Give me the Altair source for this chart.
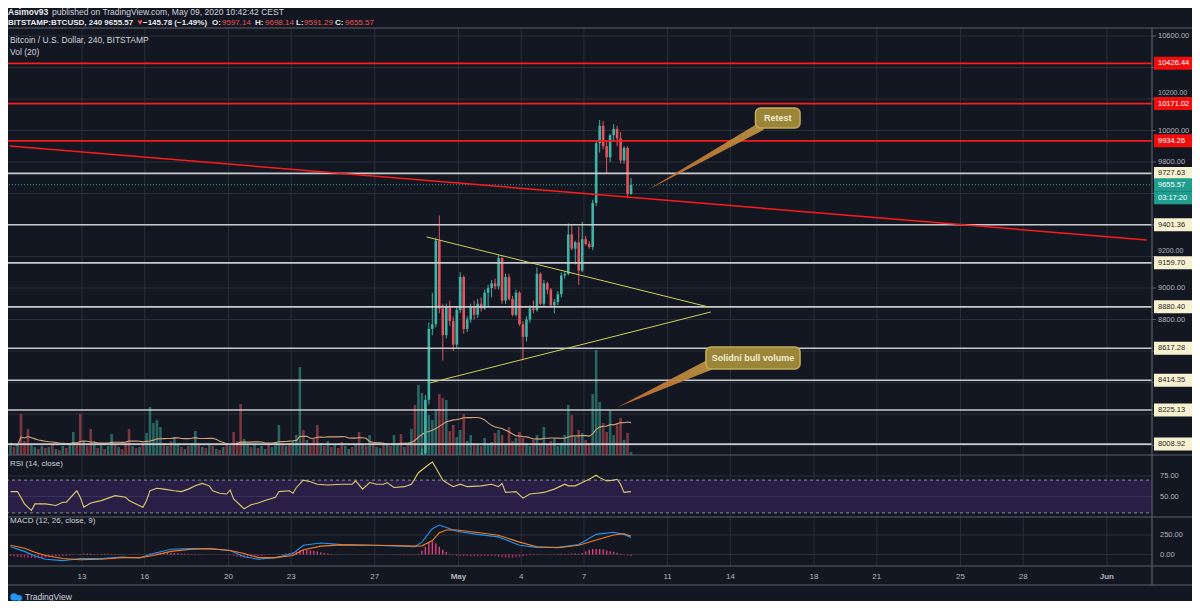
import altair as alt
import pandas as pd

FONT = "Liberation Sans"
BG = "#131722"
UP = "#3fb3a4"
DN = "#e4545e"
TXT = "#d1d4dc"
LAB = "#b2b5be"
GRID = "#2a2e39"
SEP = "#5d606b"
RED = "#ff1a1a"
WHITE_LVL = "#c9cacd"

# ---------------- data ----------------
# time in days since 2020-04-01 00:00, 4h bars
first_bar_day = 8.5833      # centre of the first visible 4h bar (Apr 9)
bars_per_day = 6

tick_days = [12, 15, 19, 22, 26, 30, 33, 36, 40, 43, 47, 50, 54, 57, 61]
tick_labels = ["13", "16", "20", "23", "27", "May", "4", "7", "11", "14", "18", "21", "25", "28", "Jun"]

c_open = [7740, 7760, 7950, 8290, 8740, 8770, 9300, 8870, 8700, 8880,
          8790, 8640, 8860, 9070, 8740, 8800, 8880, 8830, 8900, 8870,
          8970, 9000, 9030, 9010, 9190, 8920, 9070, 8930, 8830, 8970,
          8770, 8690, 8800, 8870, 8860, 9090, 8900, 9030, 8990, 8890,
          8910, 8960, 9080, 9090, 9340, 9250, 9290, 9110, 9310, 9280,
          9260, 9540, 9920, 10030, 9900, 9830, 9970, 10010, 9950, 9810,
          9890, 9597.14]
c_high = [7790, 7980, 8320, 8780, 8970, 9320, 9460, 8900, 8900, 8920,
          8820, 8880, 9100, 9080, 8820, 8900, 8920, 8930, 8940, 8990,
          9020, 9050, 9060, 9210, 9200, 9090, 9090, 8950, 8990, 8980,
          8790, 8820, 8890, 8920, 9130, 9100, 9050, 9040, 9000, 8930,
          8980, 9100, 9110, 9410, 9400, 9300, 9390, 9420, 9330, 9300,
          9560, 9940, 10067, 10060, 9930, 9980, 10040, 10030, 9990, 9900,
          9900, 9698.14]
c_low = [7700, 7750, 7930, 8260, 8700, 8750, 8840, 8540, 8680, 8760,
         8600, 8620, 8840, 8710, 8720, 8780, 8800, 8810, 8850, 8860,
         8880, 8940, 8990, 8990, 8900, 8900, 8920, 8820, 8820, 8760,
         8540, 8660, 8780, 8840, 8850, 8890, 8880, 8960, 8880, 8840,
         8890, 8940, 9060, 9080, 9240, 9150, 9020, 9100, 9270, 9250,
         9240, 9520, 9860, 9880, 9730, 9800, 9930, 9900, 9790, 9790,
         9570, 9591.29]
c_close = [7760, 7950, 8290, 8740, 8770, 9300, 8870, 8700, 8880, 8790,
           8640, 8860, 9070, 8740, 8800, 8880, 8830, 8900, 8870, 8970,
           9000, 9030, 9010, 9190, 8920, 9070, 8930, 8830, 8970, 8770,
           8690, 8800, 8870, 8860, 9090, 8900, 9030, 8990, 8890, 8910,
           8960, 9080, 9090, 9340, 9250, 9290, 9110, 9310, 9280, 9260,
           9540, 9920, 10030, 9900, 9830, 9970, 10010, 9950, 9810, 9890,
           9597.14, 9655.57]

# volume (BTC) of bars before the first visible candle
vol_pre = [720, 480, 600, 2460, 840, 1560, 600, 480, 360, 540,
           420, 480, 600, 360, 300, 540, 420, 660, 1380, 720,
           2460, 840, 540, 1560, 600, 420, 720, 360, 540, 1260,
           600, 480, 360, 660, 1560, 540, 420, 480, 600, 1320,
           2880, 1920, 2100, 1680, 720, 540, 840, 1080, 600, 480,
           360, 540, 720, 1440, 600, 480, 420, 660, 540, 360,
           300, 480, 720, 540, 1380, 840, 3060, 960, 600, 480,
           720, 420, 540, 360, 600, 480, 780, 1800, 660, 540,
           720, 840, 1200, 5280, 1500, 900, 720, 960, 1800, 720,
           540, 840, 480, 600, 420, 780, 540, 360, 480, 600,
           1380, 660, 540, 1200, 720, 480, 420, 600, 720, 540,
           1200, 660, 1260, 480, 600, 1560, 3000]
vol_pre_up = [1, 0, 1, 0, 0, 0, 1, 1, 0, 1,
              0, 1, 0, 1, 0, 1, 0, 1, 1, 0,
              0, 1, 0, 0, 1, 0, 1, 0, 1, 1,
              0, 1, 0, 0, 0, 1, 0, 1, 0, 1,
              1, 1, 1, 1, 0, 1, 0, 1, 1, 0,
              1, 0, 1, 1, 0, 1, 0, 1, 0, 1,
              0, 1, 0, 1, 0, 0, 0, 1, 1, 0,
              1, 0, 1, 1, 0, 1, 1, 1, 0, 1,
              0, 1, 1, 1, 0, 1, 0, 0, 0, 1,
              0, 1, 0, 1, 0, 0, 1, 1, 0, 1,
              0, 1, 0, 1, 0, 1, 1, 0, 1, 0,
              1, 1, 0, 1, 0, 1, 0]
vol_candle = [4200, 3720, 3300, 2400, 2100, 2760, 3660, 3420, 3300, 1440,
              1800, 1080, 1500, 2460, 840, 1200, 720, 600, 540, 1020,
              660, 780, 1320, 1500, 1200, 720, 1680, 840, 1020, 1380,
              1020, 720, 540, 900, 1200, 720, 1680, 600, 840, 1020,
              540, 720, 1200, 3000, 2400, 1080, 1500, 1320, 900, 720,
              3660, 6300, 3180, 1920, 1380, 2700, 1200, 1920, 2220, 900,
              1320, 180]

rsi_bar = [0, 2, 4, 6, 7, 10, 13, 15, 16, 19, 20, 21, 23, 26, 28, 30, 33, 34, 36, 38,
           39, 40, 42, 44, 47, 49, 51, 53, 55, 57, 58, 60, 62, 63, 64, 66, 67, 69, 71, 73,
           76, 77, 80, 81, 82, 84, 86, 88, 91, 95, 98, 99, 101, 103, 105, 107, 108, 110, 113, 115,
           117, 120, 121, 122, 124, 125, 127, 129, 131, 135, 138, 140, 141, 142, 145, 147, 149, 151, 153, 156,
           159, 160, 162, 164, 166, 168, 169, 171, 173, 174, 175, 176, 178]
rsi_val = [56, 56, 41, 33, 41, 41, 39, 43, 43, 57, 49, 37, 42, 45, 48, 51, 49, 45, 41, 37,
           45, 57, 60, 59, 57, 56, 59, 63, 66, 63, 57, 54, 53, 58, 47, 39, 35, 40, 42, 45,
           49, 56, 57, 54, 61, 70, 68, 65, 64, 65, 65, 69, 59, 67, 65, 65, 67, 61, 62, 65,
           79, 89, 92, 85, 70, 67, 62, 65, 62, 63, 65, 62, 66, 55, 56, 48, 53, 54, 55, 59,
           65, 63, 63, 67, 71, 76, 73, 69, 70, 71, 65, 55, 56]

macd_bar = [0, 4, 7, 10, 15, 20, 26, 32, 37, 41, 46, 52, 57, 63, 67, 71, 76, 81, 84, 89,
            95, 104, 110, 116, 118, 121, 123, 125, 128, 134, 140, 146, 151, 157, 163, 168, 173, 176, 178]
macd_val = [99, 40, -20, -60, -79, -52, -52, -32, -44, 12, 67, 75, 75, 52, -28, -60, -40, 12, 119, 147,
            127, 119, 111, 99, 159, 330, 377, 345, 298, 258, 226, 119, 91, 91, 127, 258, 286, 258, 218]
signal_val = [119, 79, 28, -12, -52, -67, -60, -40, -40, -12, 40, 67, 75, 52, 12, -40, -40, -12, 60, 107,
              123, 119, 115, 107, 111, 179, 278, 314, 314, 282, 246, 159, 99, 87, 119, 187, 250, 266, 238]
hist_val = [-20, -25, -30, -35, -39, -42, -45, -48, -48, -46,
            -42, -36, -30, -27, -24, -20, -16, -12, -6, 0,
            8, 12, 12, 10, 8, 6, 8, 10, 10, 8,
            6, 4, 2, 0, -2, -4, -5, -4, -2, 4,
            12, 18, 22, 25, 27, 27, 24, 20, 16, 12,
            10, 8, 8, 6, 4, 2, 1, 0, 0, 0,
            -1, -2, -4, -10, -18, -28, -36, -40, -38, -30,
            -25, -20, -15, -10, -5, -2, 0, 2, 6, 12,
            20, 30, 40, 50, 58, 60, 55, 48, 40, 30,
            20, 12, 6, 4, 2, 0, 0, 0, 0, 0,
            -2, -4, -4, -2, 0, -2, -4, -4, -4, -4,
            -4, -6, -8, -8, -8, -6, -4, 8, 48, 100,
            150, 170, 140, 100, 60, 31, 10, -10, -16, -20,
            -24, -24, -24, -24, -22, -20, -20, -18, -20, -22,
            -30, -36, -40, -42, -40, -36, -30, -24, -16, -10,
            -8, -8, -4, 0, 2, 4, 4, 6, 8, 8,
            10, 12, 14, 10, 20, 40, 60, 70, 72, 70,
            64, 52, 42, 36, 24, 10, -6, -14, -20]

price_grid = [8000, 8200, 8400, 8600, 8800, 9000, 9200, 9400, 9600, 9800, 10000, 10200, 10400, 10600]
price_labels_shown = [8800, 9000, 9800, 10000, 10600]
price_labels_peeking = [9200, 10200]      # mostly hidden behind level boxes
red_levels = [10426.44, 10171.02, 9934.26]
white_levels = [9727.63, 9401.36, 9159.70, 8880.40, 8617.28, 8414.35, 8225.13, 8008.92]
last_price = 9655.57
countdown = "03:17:20"

trend_day = [8.54, 62.9]
trend_price = [9902, 9305]
tri_up_day = [28.48, 41.97]
tri_up_price = [9324, 8879]
tri_lo_day = [28.62, 42.07]
tri_lo_price = [8397, 8848]

retest_box = dict(d0=44.20, d1=46.33, p0=10016, p1=10143)
retest_ptr_day = [39.04, 44.58]
retest_ptr_top = [9622, 10067]
retest_ptr_bot = [9622, 10003]
solid_box = dict(d0=41.83, d1=46.33, p0=8486, p1=8625)
solid_ptr_day = [37.62, 42.07]
solid_ptr_top = [8244, 8556]
solid_ptr_bot = [8244, 8479]

# ---------------- frames ----------------
n_pre = len(vol_pre)
candles = pd.DataFrame({"o": c_open, "h": c_high, "l": c_low, "c": c_close})
candles["j"] = range(n_pre, n_pre + len(candles))
candles["d"] = first_bar_day + candles["j"] / bars_per_day

vol_df = pd.DataFrame({
    "vol": vol_pre + vol_candle,
    "up": vol_pre_up + [1 if c >= o else 0 for o, c in zip(c_open, c_close)],
})
vol_df["j"] = range(len(vol_df))
vol_df["d"] = first_bar_day + vol_df["j"] / bars_per_day

rsi_df = pd.DataFrame({"j": rsi_bar, "r": rsi_val})
rsi_df["d"] = first_bar_day + rsi_df["j"] / bars_per_day
macd_df = pd.DataFrame({"j": macd_bar, "m": macd_val, "s": signal_val})
macd_df["d"] = first_bar_day + macd_df["j"] / bars_per_day
hist_df = pd.DataFrame({"h": hist_val})
hist_df["j"] = range(len(hist_df))
hist_df["d"] = first_bar_day + hist_df["j"] / bars_per_day

ONE = pd.DataFrame({"a": [0]})


def X(field="d"):
    return alt.X(f"{field}:Q", scale=alt.Scale(domain=[12, 61], range=[69, 1103.88], zero=False, nice=False), axis=None)


def P(field):
    return alt.Y(f"{field}:Q", scale=alt.Scale(domain=[7940, 10600], range=[446.95, 28], zero=False, nice=False, clamp=True), axis=None)


def R(field):
    return alt.Y(f"{field}:Q", scale=alt.Scale(domain=[30, 70], range=[504.9, 472.1], zero=False, nice=False), axis=None)


def M(field):
    return alt.Y(f"{field}:Q", scale=alt.Scale(domain=[0, 250], range=[546.5, 527.0], zero=False, nice=False), axis=None)


def V(field):
    return alt.Y(f"{field}:Q", scale=alt.Scale(domain=[0, 6000], range=[447, 347], zero=False, nice=False), axis=None)


def rule_px(x0, x1, y0, y1, color, width=1.0):
    return alt.Chart(ONE).mark_rule(color=color, strokeWidth=width).encode(
        x=alt.value(x0), x2=alt.value(x1), y=alt.value(y0), y2=alt.value(y1))


def txt(s, px, py, color=TXT, size=8.5, weight="normal", align="left"):
    return alt.Chart(pd.DataFrame({"t": [s]})).mark_text(
        color=color, fontSize=size, fontWeight=weight, align=align, baseline="middle", font=FONT
    ).encode(text="t:N", x=alt.value(px), y=alt.value(py))


layers = []

# vertical grid
layers.append(alt.Chart(pd.DataFrame({"d": tick_days})).mark_rule(color=GRID, strokeWidth=1).encode(
    x=X(), y=alt.value(20), y2=alt.value(558)))
# price grid
layers.append(alt.Chart(pd.DataFrame({"p": price_grid})).mark_rule(color=GRID, strokeWidth=1).encode(
    y=P("p"), x=alt.value(-8), x2=alt.value(1144)))
# RSI band + grid
layers.append(alt.Chart(pd.DataFrame({"lo": [30], "hi": [70]})).mark_rect(color="#281e46").encode(
    y=R("lo"), y2="hi:Q", x=alt.value(-8), x2=alt.value(1144)))
layers.append(alt.Chart(pd.DataFrame({"r": [75]})).mark_rule(color=GRID).encode(
    y=R("r"), x=alt.value(-8), x2=alt.value(1144)))
layers.append(alt.Chart(pd.DataFrame({"r": [50]})).mark_rule(color="#3a3160").encode(
    y=R("r"), x=alt.value(-8), x2=alt.value(1144)))
layers.append(alt.Chart(pd.DataFrame({"r": [30, 70]})).mark_rule(color="#8a8d98", strokeDash=[3, 3]).encode(
    y=R("r"), x=alt.value(-8), x2=alt.value(1144)))
# MACD grid
layers.append(alt.Chart(pd.DataFrame({"m": [0, 250]})).mark_rule(color=GRID).encode(
    y=M("m"), x=alt.value(-8), x2=alt.value(1144)))

# volume
vcolor = alt.condition("datum.up == 1", alt.value(UP), alt.value(DN))
layers.append(alt.Chart(vol_df).mark_bar(size=2.6, opacity=0.5).encode(
    x=X(), y=V("vol"), y2=alt.datum(0), color=vcolor))
layers.append(alt.Chart(vol_df).transform_window(
    ma="mean(vol)", frame=[-19, 0], sort=[alt.SortField("j")]
).mark_line(color="#d5a278", strokeWidth=1.1).encode(x=X(), y=V("ma")))

# candles
ccolor = alt.condition("datum.c >= datum.o", alt.value(UP), alt.value(DN))
layers.append(alt.Chart(candles).mark_rule(strokeWidth=1).encode(x=X(), y=P("l"), y2="h:Q", color=ccolor))
layers.append(alt.Chart(candles).mark_bar(size=2.6).encode(x=X(), y=P("o"), y2="c:Q", color=ccolor))

# horizontal levels
layers.append(alt.Chart(pd.DataFrame({"p": white_levels})).mark_rule(color=WHITE_LVL, strokeWidth=1.6).encode(
    y=P("p"), x=alt.value(-8), x2=alt.value(1144)))
layers.append(alt.Chart(pd.DataFrame({"p": red_levels})).mark_rule(color=RED, strokeWidth=1.8).encode(
    y=P("p"), x=alt.value(-8), x2=alt.value(1144)))
layers.append(alt.Chart(pd.DataFrame({"p": [last_price]})).mark_rule(color="#26a69a", strokeWidth=1, strokeDash=[1, 2]).encode(
    y=P("p"), x=alt.value(-8), x2=alt.value(1144)))
# trend line + triangle
layers.append(alt.Chart(pd.DataFrame({"d": trend_day, "p": trend_price})).mark_line(color=RED, strokeWidth=1.5).encode(
    x=X(), y=P("p")))
layers.append(alt.Chart(pd.DataFrame({"d": tri_up_day, "p": tri_up_price})).mark_line(color="#cfcf5a", strokeWidth=1).encode(
    x=X(), y=P("p")))
layers.append(alt.Chart(pd.DataFrame({"d": tri_lo_day, "p": tri_lo_price})).mark_line(color="#cfcf5a", strokeWidth=1).encode(
    x=X(), y=P("p")))

# callouts
grad = alt.Gradient(gradient="linear", x1=0, x2=1, y1=0, y2=0,
                    stops=[alt.GradientStop(color="#c8682f", offset=0),
                           alt.GradientStop(color="#b59140", offset=1)])
for pd_, pt, pb, box, label in [
    (retest_ptr_day, retest_ptr_top, retest_ptr_bot, retest_box, "Retest"),
    (solid_ptr_day, solid_ptr_top, solid_ptr_bot, solid_box, "Solidní bull volume"),
]:
    layers.append(alt.Chart(pd.DataFrame({"d": pd_, "t": pt, "b": pb})).mark_area(color=grad, opacity=0.95).encode(
        x=X(), y=P("t"), y2="b:Q"))
    bdf = pd.DataFrame([box])
    layers.append(alt.Chart(bdf).mark_rect(fill="#9a8539", stroke="#c7ab58", strokeWidth=1.5, cornerRadius=5).encode(
        x=X("d0"), x2="d1:Q", y=P("p0"), y2="p1:Q"))
    tdf = pd.DataFrame({"d": [(box["d0"] + box["d1"]) / 2], "p": [(box["p0"] + box["p1"]) / 2], "t": [label]})
    layers.append(alt.Chart(tdf).mark_text(color="#f4efd6", fontSize=9, fontWeight="bold", font=FONT, baseline="middle").encode(
        x=X(), y=P("p"), text="t:N"))

# RSI line
layers.append(alt.Chart(rsi_df).mark_line(color="#dccb6c", strokeWidth=1.1).encode(x=X(), y=R("r")))
# MACD
hcolor = alt.condition("datum.h >= 0", alt.value("#e0407a"), alt.value("#b52a63"))
layers.append(alt.Chart(hist_df).mark_bar(size=1.4).encode(x=X(), y=M("h"), y2=alt.datum(0), color=hcolor))
layers.append(alt.Chart(macd_df).mark_line(color="#2196f3", strokeWidth=1.1).encode(x=X(), y=M("m")))
layers.append(alt.Chart(macd_df).mark_line(color="#f57c1f", strokeWidth=1.1).encode(x=X(), y=M("s")))

# pane separators / frame
for yy in [20, 447, 509, 558, 577]:
    layers.append(rule_px(-8, 1190, yy, yy, SEP, 1.2))
layers.append(rule_px(1144, 1144, 20, 577, SEP, 1.2))

# right price axis
layers.append(alt.Chart(pd.DataFrame({"p": price_grid})).mark_rule(color=SEP).encode(
    y=P("p"), x=alt.value(1144), x2=alt.value(1148)))
layers.append(alt.Chart(pd.DataFrame({"p": price_labels_shown})).mark_text(
    align="left", baseline="middle", color=LAB, fontSize=7.5, font=FONT).encode(
    x=alt.value(1150), y=P("p"), text=alt.Text("p:Q", format=".2f")))
# labels peeking out above the level boxes (nudged up so only their visible part shows)
layers.append(alt.Chart(pd.DataFrame({"p": price_labels_peeking})).transform_calculate(
    pos="datum.p + 36").mark_text(
    align="left", baseline="middle", color=LAB, fontSize=7, font=FONT).encode(
    x=alt.value(1150), y=P("pos"), text=alt.Text("p:Q", format=".2f")))


def boxes(values, fill, tcolor):
    df = pd.DataFrame({"p": values})
    r = alt.Chart(df).transform_calculate(lo="datum.p - 41.3", hi="datum.p + 41.3").mark_rect(color=fill).encode(
        x=alt.value(1146), x2=alt.value(1190), y=P("lo"), y2="hi:Q")
    t = alt.Chart(df).mark_text(align="left", baseline="middle", color=tcolor, fontSize=7.5, font=FONT).encode(
        x=alt.value(1150), y=P("p"), text=alt.Text("p:Q", format=".2f"))
    return [r, t]


layers += boxes(red_levels, "#f20d0d", "#ffffff")
layers += boxes(white_levels, "#f8f1d0", "#1b1f2b")
lp = pd.DataFrame({"row": [0, 1], "t": [f"{last_price:.2f}", countdown]})
lp_base = alt.Chart(lp).transform_calculate(
    c=f"{last_price} - datum.row * 82.5", lo="datum.c - 41.3", hi="datum.c + 41.3")
layers.append(lp_base.mark_rect(color="#1f9e90").encode(x=alt.value(1146), x2=alt.value(1190), y=P("lo"), y2="hi:Q"))
layers.append(lp_base.mark_text(align="left", baseline="middle", color="#ffffff", fontSize=7.5, font=FONT).encode(
    x=alt.value(1150), y=P("c"), text="t:N"))

# RSI / MACD axis labels
layers.append(alt.Chart(pd.DataFrame({"r": [75, 50]})).mark_text(
    align="left", baseline="middle", color=LAB, fontSize=7.5, font=FONT).encode(
    x=alt.value(1152), y=R("r"), text=alt.Text("r:Q", format=".2f")))
layers.append(alt.Chart(pd.DataFrame({"m": [250, 0]})).mark_text(
    align="left", baseline="middle", color=LAB, fontSize=7.5, font=FONT).encode(
    x=alt.value(1152), y=M("m"), text=alt.Text("m:Q", format=".2f")))

# time axis labels
tdf = pd.DataFrame({"d": tick_days, "lab": tick_labels})
layers.append(alt.Chart(tdf).transform_filter("datum.lab != 'May' && datum.lab != 'Jun'").mark_text(
    color=LAB, fontSize=8, font=FONT, baseline="middle").encode(x=X(), y=alt.value(569), text="lab:N"))
layers.append(alt.Chart(tdf).transform_filter("datum.lab == 'May' || datum.lab == 'Jun'").mark_text(
    color=LAB, fontSize=8, fontWeight="bold", font=FONT, baseline="middle").encode(x=X(), y=alt.value(569), text="lab:N"))

# pane titles
layers.append(txt("Bitcoin / U.S. Dollar, 240, BITSTAMP", 2, 32))
layers.append(txt("Vol (20)", 2, 44))
layers.append(txt("RSI (14, close)", 2, 456, size=8))
layers.append(txt("MACD (12, 26, close, 9)", 2, 513, size=8))

# header
layers.append(txt("Asimov93", 0, 4, color="#e6e8ee", weight="bold"))
layers.append(txt("published on TradingView.com, May 09, 2020 10:42:42 CEST", 44, 4, color=TXT))
HR = "#ef5350"
layers.append(txt("BITSTAMP:BTCUSD, 240  9655.57", 0, 15, color="#e6e8ee", size=8, weight="bold"))
layers.append(txt("\u25bc", 128, 15, color=HR, size=8))
layers.append(txt("\u2212145.78 (\u22121.49%)", 135, 15, color="#e6e8ee", size=8, weight="bold"))
for lab_, val_, x_ in [("O:", "9597.14", 204), ("H:", "9698.14", 247), ("L:", "9591.29", 288), ("C:", "9655.57", 327)]:
    layers.append(txt(lab_, x_, 15, color="#e6e8ee", size=8, weight="bold"))
    layers.append(txt(val_, x_ + 10 if lab_ in ("O:", "H:", "C:") else x_ + 8, 15, color=HR, size=8))

# logo
layers.append(alt.Chart(ONE).mark_point(shape="circle", filled=True, color="#2196f3", size=55, opacity=1).encode(
    x=alt.value(6), y=alt.value(589)))
layers.append(alt.Chart(ONE).mark_point(shape="circle", filled=True, color="#2196f3", size=35, opacity=1).encode(
    x=alt.value(11), y=alt.value(590)))
layers.append(txt("TradingView", 17, 589, color=TXT, size=8.5))

chart = alt.layer(*layers).resolve_scale(y="independent").properties(
    width=1184, height=593, autosize=alt.AutoSizeParams(type="none"), padding=0
).configure(background=BG).configure_view(stroke=None)

chart.save("out.html", embed_options={"renderer": "svg", "actions": False})
